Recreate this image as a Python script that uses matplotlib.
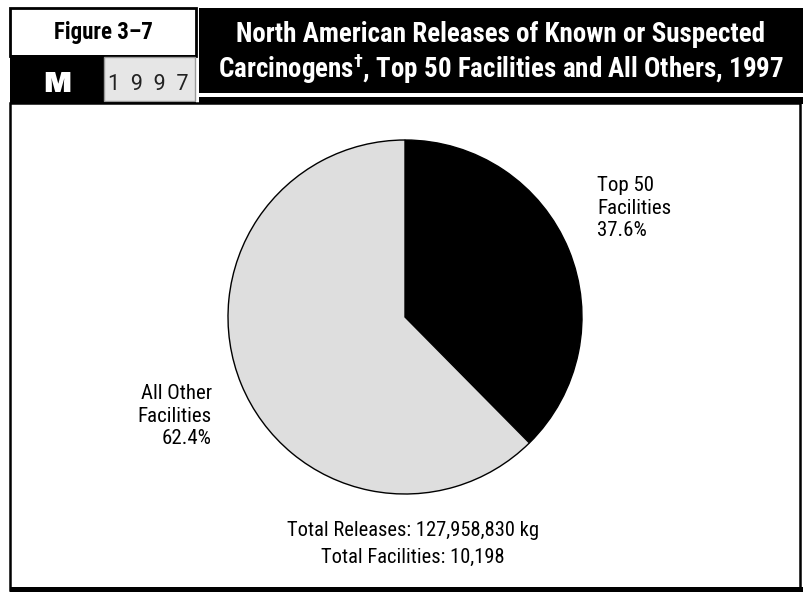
import matplotlib
matplotlib.use("Agg")
import matplotlib.pyplot as plt
from matplotlib.patches import Rectangle
from matplotlib import font_manager

# ---- data ----
categories = ["Top 50\nFacilities", "All Other\nFacilities"]
shares = [37.6, 62.4]
colors = ["#000000", "#dedede"]
total_releases_kg = 127958830
total_facilities = 10198
fig_label = "Figure 3\u20137"
series_letter = "M"
year = "1997"
title_line1 = "North American Releases of Known or Suspected"
title_line2 = "Carcinogens$^{\u2020}$, Top 50 Facilities and All Others, 1997"

names = {f.name for f in font_manager.fontManager.ttflist}
def pick(cands, default="DejaVu Sans"):
    for c in cands:
        if c in names:
            return c
    return default

COND = pick(["Roboto Condensed", "Archivo Narrow", "PT Sans Narrow",
             "IBM Plex Sans Condensed", "Barlow Semi Condensed"])
WIDE = pick(["Archivo Black", "Krona One", "Syncopate"])
REG = "Roboto"

plt.rcParams["font.family"] = [COND, "DejaVu Sans"]
plt.rcParams["mathtext.fontset"] = "custom"
plt.rcParams["mathtext.rm"] = COND + ":bold"
plt.rcParams["mathtext.it"] = COND + ":bold"
plt.rcParams["mathtext.bf"] = COND + ":bold"

W, H = 804, 592
fig = plt.figure(figsize=(W / 100, H / 100), dpi=100)
bg = fig.add_axes([0, 0, 1, 1])
bg.set_xlim(0, W)
bg.set_ylim(H, 0)
bg.axis("off")

def rect(x0, y0, x1, y1, **kw):
    bg.add_patch(Rectangle((x0, y0), x1 - x0, y1 - y0, **kw))

# header: figure label box
rect(10, 8, 196, 56, facecolor="white", edgecolor="black", linewidth=2)
rect(10, 55, 196, 104, facecolor="black", edgecolor="none")
rect(104, 57, 195, 101, facecolor="#e6e6e6", edgecolor="#9a9a9a", linewidth=1)
# title black box
rect(199, 8, W, 93, facecolor="black", edgecolor="none")
rect(199, 97, W, 104, facecolor="black", edgecolor="none")
# main panel
rect(10, 103, 800, 590, facecolor="white", edgecolor="black", linewidth=1.8)
rect(10, 587, W, H, facecolor="black", edgecolor="none")

bg.text(103, 32, fig_label, ha="center", va="center", fontsize=16.5,
        fontweight="bold", color="black")
bg.text(57, 84, series_letter, ha="center", va="center", fontsize=21.5,
        fontweight="bold", color="white", family=[WIDE, "DejaVu Sans"])
bg.text(148, 84, "  ".join(year), ha="center", va="center", fontsize=15.5,
        color="#222222", family=[REG, "DejaVu Sans"])

t1 = bg.text(501, 34, title_line1, ha="center", va="center", fontsize=18,
             fontweight="bold", color="white")
t2 = bg.text(501, 69, title_line2, ha="center", va="center", fontsize=18,
             fontweight="bold", color="white")
# fit title width to the header box
fig.canvas.draw()
rend = fig.canvas.get_renderer()
w1 = t1.get_window_extent(rend).width
fs = 18 * 530.0 / w1
t1.set_fontsize(fs)
t2.set_fontsize(fs)

# ---- pie ----
cx, cy, r = 405, 317, 177
pax = fig.add_axes([(cx - r) / W, (H - cy - r) / H, 2 * r / W, 2 * r / H])
pax.pie(shares, colors=colors, startangle=90, counterclock=False,
        wedgeprops=dict(edgecolor="black", linewidth=1.0))
pax.set_xlim(-1.0, 1.0)
pax.set_ylim(-1.0, 1.0)
pax.set_aspect("auto")
pax.axis("off")

lab_fs = 15
bg.text(597, 208, f"{categories[0]}\n{shares[0]:.1f}%", ha="left", va="center",
        fontsize=lab_fs, linespacing=1.25, multialignment="left")
bg.text(212, 416, f"{categories[1]}\n{shares[1]:.1f}%", ha="right", va="center",
        fontsize=lab_fs, linespacing=1.25, multialignment="right")

bg.text(413, 530, f"Total Releases: {total_releases_kg:,} kg", ha="center",
        va="center", fontsize=14.8)
bg.text(413, 557, f"Total Facilities: {total_facilities:,}", ha="center",
        va="center", fontsize=14.8)

fig.savefig("out.png", dpi=100)
